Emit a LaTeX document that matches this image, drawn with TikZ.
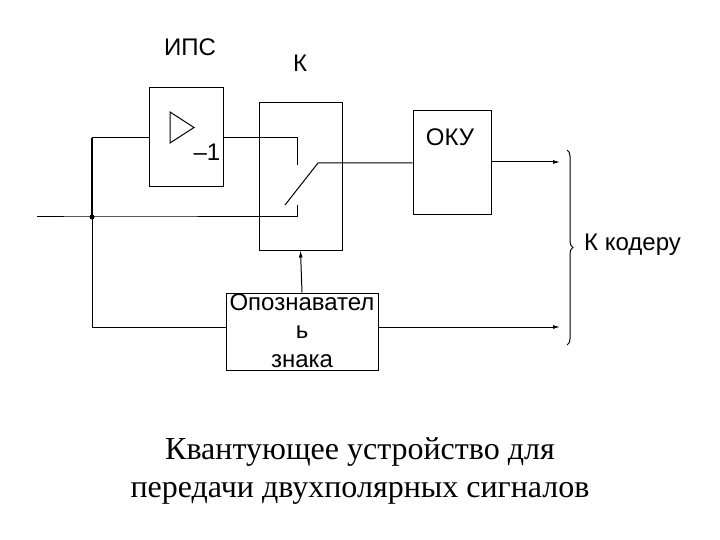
\documentclass[tikz,border=0pt]{standalone}
\usepackage{fontspec}
\setmainfont{Liberation Sans}
\newfontfamily\capfont{Liberation Serif}
\usetikzlibrary{arrows.meta,decorations.pathreplacing}
\begin{document}
\begin{tikzpicture}[x=1pt,y=-1pt,
  blk/.style={draw,line width=1pt,inner sep=0},
  wire/.style={line width=1pt},
  arr/.style={wire,-{Latex[length=7pt,width=4pt]}},
  lbl/.style={font=\fontsize{24}{26}\selectfont,inner sep=0}]
\useasboundingbox (0,0) rectangle (720,540);
\node[blk,minimum width=74pt,minimum height=99pt] (ips) at (186,137.5) {};
\node[blk,minimum width=83pt,minimum height=147pt] (k) at (300.5,176.5) {};
\node[blk,minimum width=78pt,minimum height=104pt] (oku) at (452,163) {};
\node[blk,minimum width=152pt,minimum height=77pt] (op) at (302,331.5) {};
\node[lbl] (tips) at (190,47) {ИПС};
\node[lbl] (tk) at (300,63) {К};
\node[lbl] (toku) at (450,137) {ОКУ};
\node[lbl] (tm1) at (207,152) {–1};
\node[lbl] (t1) at (302,302) {Опознавател};
\node[lbl] (t2) at (302,332) {ь};
\node[lbl] (t3) at (302,361) {знака};
\draw[line width=1pt] (170,112) -- (170,143) -- (194,127.5) -- cycle;
\coordinate (in) at (37,217);
\coordinate (j) at (92,217);
\coordinate (jt) at (92,138);
\coordinate (jb) at (92,327);
\coordinate (c1) at (297,165);
\coordinate (c2) at (297,205);
\coordinate (b1) at (285,205);
\coordinate (b2) at (318,163);
\coordinate (o1) at (560,162);
\coordinate (o2) at (560,327);
\draw[wire] (in) -- (j) -- (c2 |- j) -- (c2);
\draw[line width=2pt] (jt) -- (j);
\draw[wire] (j) -- (jb) -- (op.west |- jb);
\draw[wire] (jt) -- (ips.west |- jt);
\draw[wire] (ips.east |- jt) -- (c1 |- jt) -- (c1);
\draw[wire] (b1) -- (b2) -- (oku.west |- b2);
\draw[arr] (oku.east |- o1) -- (o1);
\draw[arr] (op.east |- o2) -- (o2);
\draw[arr] (op.north) -- (k.south);
\fill (j) circle (2.5pt);
\draw[line width=1pt,decorate,decoration={brace,amplitude=6pt}] (567,150) -- (567,345);
\node[lbl,anchor=west] (kod) at (584,245) {К кодеру};
\node[font=\capfont\fontsize{32}{38}\selectfont,align=center] (cap) at (360,471) {Квантующее устройство для\\передачи двухполярных сигналов};
\end{tikzpicture}
\end{document}
